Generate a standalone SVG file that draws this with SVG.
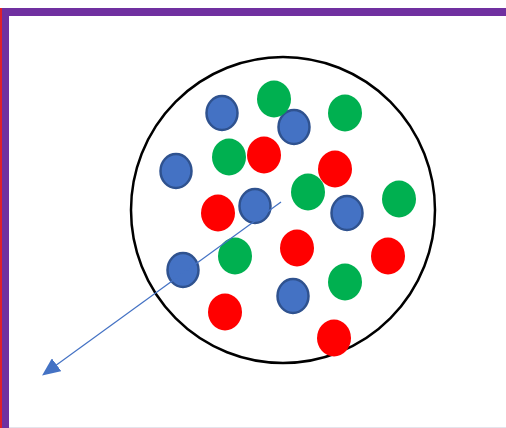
<svg xmlns="http://www.w3.org/2000/svg" width="506" height="428" viewBox="0 0 506 428">
<style>
.b{fill:#4472C4;stroke:#2F528F;stroke-width:2.5}
.g{fill:#00B050}
.r{fill:#FF0000}
</style>
<defs>
<marker id="ah" viewBox="0 0 18 16" refX="2" refY="8" markerWidth="18" markerHeight="16" markerUnits="userSpaceOnUse" orient="auto">
<path d="M0,0 L18,8 L0,16 Z" fill="#4472C4"/>
</marker>
</defs>
<rect width="506" height="428" fill="#fff"/>
<rect x="0" y="427" width="506" height="1" fill="#E4E4EC"/>
<g id="frame">
<rect x="2" y="8" width="504" height="8" fill="#7030A0"/>
<rect x="2" y="8" width="7" height="420" fill="#7030A0"/>
<rect x="0" y="8" width="2" height="420" fill="#E0202A"/>
</g>
<g id="container">
<ellipse cx="283" cy="210" rx="152" ry="153" fill="none" stroke="#000" stroke-width="2.5"/>
</g>
<g id="dots">
<ellipse class="b" cx="222" cy="113" rx="15.5" ry="17"/>
<ellipse class="b" cx="294" cy="127" rx="15.5" ry="17"/>
<ellipse class="b" cx="176" cy="171" rx="15.5" ry="17"/>
<ellipse class="b" cx="255" cy="206" rx="15.5" ry="17"/>
<ellipse class="b" cx="347" cy="213" rx="15.5" ry="17"/>
<ellipse class="b" cx="183" cy="270" rx="15.5" ry="17"/>
<ellipse class="b" cx="293" cy="296" rx="15.5" ry="17"/>
<ellipse class="g" cx="274" cy="99" rx="17" ry="18.5"/>
<ellipse class="g" cx="345" cy="113" rx="17" ry="18.5"/>
<ellipse class="g" cx="229" cy="157" rx="17" ry="18.5"/>
<ellipse class="g" cx="308" cy="192" rx="17" ry="18.5"/>
<ellipse class="g" cx="399" cy="199" rx="17" ry="18.5"/>
<ellipse class="g" cx="235" cy="256" rx="17" ry="18.5"/>
<ellipse class="g" cx="345" cy="282" rx="17" ry="18.5"/>
<ellipse class="r" cx="264" cy="155" rx="17" ry="18.5"/>
<ellipse class="r" cx="335" cy="169" rx="17" ry="18.5"/>
<ellipse class="r" cx="218" cy="213" rx="17" ry="18.5"/>
<ellipse class="r" cx="297" cy="248" rx="17" ry="18.5"/>
<ellipse class="r" cx="388" cy="256" rx="17" ry="18.5"/>
<ellipse class="r" cx="225" cy="312" rx="17" ry="18.5"/>
<ellipse class="r" cx="334" cy="338" rx="17" ry="18.5"/>
</g>
<g id="connectors">
<line x1="281" y1="202" x2="55" y2="366" stroke="#4472C4" stroke-width="1.2" marker-end="url(#ah)"/>
</g>
</svg>
